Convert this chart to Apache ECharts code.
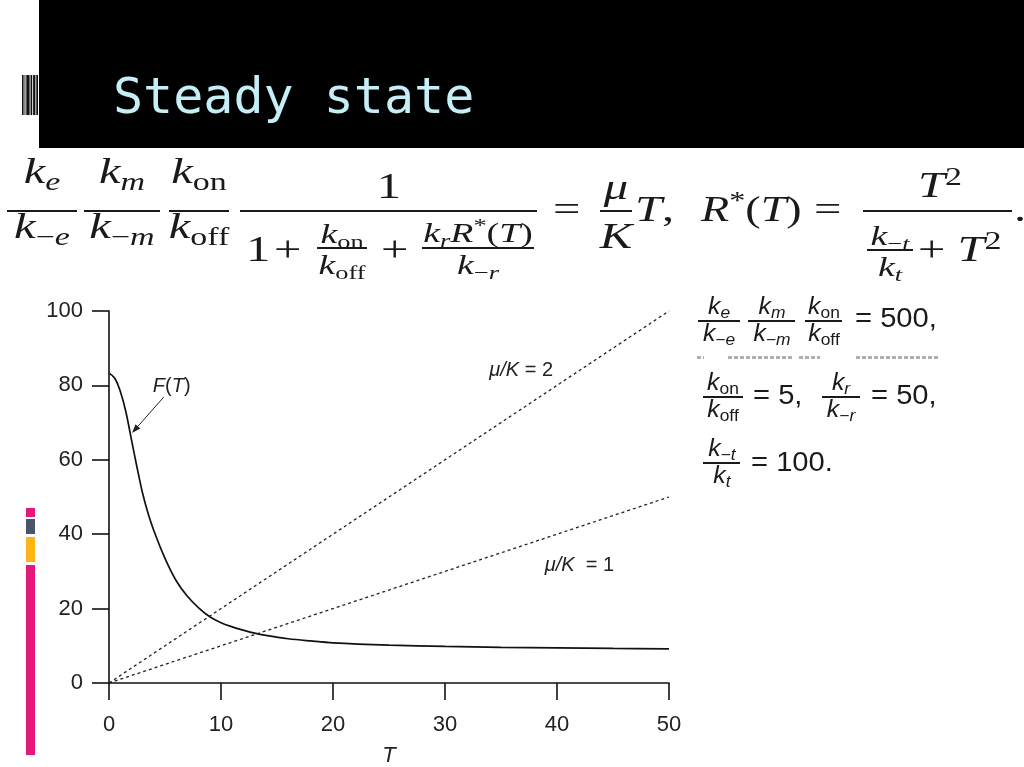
<!DOCTYPE html>
<html>
<head>
<meta charset="utf-8">
<script src="https://cdn.jsdelivr.net/npm/echarts@6/dist/echarts.min.js"></script>
<style>
  html, body { margin: 0; padding: 0; background: #fff; }
  #wrap { position: relative; width: 1024px; height: 767px; overflow: hidden; }
  #myecharts { position: absolute; left: 0; top: 0; width: 1024px; height: 767px; }
  #eqs { position: absolute; left: 0; top: 0; width: 1024px; height: 767px; pointer-events: none; }
  #eqs div { position: absolute; white-space: nowrap; line-height: 1; color: #1a1a1a; }
  .s { font-size: .7em; position: relative; top: .28em; }
  .p { font-size: .7em; position: relative; top: -.48em; }
</style>
</head>
<body>
<div id="wrap">
  <div id="myecharts"></div>
  <div id="eqs"></div>
</div>
<script>
// chart data
var tValues = [0, 0.5, 1, 1.5, 2, 2.5, 3, 3.5, 4, 5, 6, 7, 8, 9, 10, 11, 12, 13, 14, 16, 18, 20, 25, 30, 35, 40, 45, 50];
var fValues = [83.3, 82.0, 78.5, 73.0, 65.5, 58.0, 51.0, 45.5, 41.0, 33.5, 27.5, 23.3, 20.2, 17.8, 16.2, 15.1, 14.2, 13.4, 12.8, 11.9, 11.3, 10.8, 10.2, 9.85, 9.6, 9.45, 9.3, 9.2];
var lineT = [0, 50];
var mu2Values = [0, 100];
var mu1Values = [0, 50];
var xTicks = [0, 10, 20, 30, 40, 50];
var yTicks = [0, 20, 40, 60, 80, 100];

var SANS = "'Liberation Sans', Arial, Helvetica, sans-serif";
var SERIF = "'Liberation Serif', 'DejaVu Serif', serif";

var myChart = echarts.init(document.getElementById('myecharts'));

function pairs(xs, ys) {
    var out = [];
    for (var i in xs) out.push([xs[i], ys[i]]);
    return out;
}

var axisCommon = {
    type: 'value',
    splitLine: { show: false },
    axisLine: { show: true, lineStyle: { color: '#111', width: 1.6 } },
    axisTick: { show: true, length: 17, lineStyle: { color: '#111', width: 1.6 } }
};

var option = {
    animation: false,
    grid: { left: 109, top: 311, width: 560, height: 372, outerBoundsMode: 'none', containLabel: false },
    xAxis: Object.assign({}, axisCommon, {
        min: xTicks[0], max: xTicks[xTicks.length - 1], interval: 10,
        name: 'T', nameLocation: 'middle', nameGap: 62,
        nameTextStyle: { fontFamily: SANS, fontSize: 22, fontStyle: 'italic', color: '#222' },
        axisLabel: { fontFamily: SANS, fontSize: 22, color: '#222', margin: 31 }
    }),
    yAxis: Object.assign({}, axisCommon, {
        min: yTicks[0], max: yTicks[yTicks.length - 1], interval: 20,
        axisLabel: { fontFamily: SANS, fontSize: 22, color: '#222', margin: 26 }
    }),
    series: [
        {
            name: 'F(T)', type: 'line', data: pairs(tValues, fValues),
            smooth: 0.35, showSymbol: false,
            lineStyle: { color: '#111', width: 1.7 }
        },
        {
            name: 'mu2', type: 'line', data: pairs(lineT, mu2Values),
            showSymbol: false,
            lineStyle: { color: '#222', width: 1.3, type: [3, 3] }
        },
        {
            name: 'mu1', type: 'line', data: pairs(lineT, mu1Values),
            showSymbol: false,
            lineStyle: { color: '#222', width: 1.3, type: [3, 3] }
        }
    ]
};
myChart.setOption(option);

// slide decoration + plot annotations
function px(p) { return myChart.convertToPixel({ gridIndex: 0 }, p); }

var g = [];
g.push({ type: 'rect', shape: { x: 39, y: 0, width: 985, height: 148 }, style: { fill: '#000' } });
g.push({ type: 'rect', shape: { x: 22, y: 75, width: 16, height: 40 }, style: { fill: '#111' } });
[23.6, 25.4, 29.6, 32.2, 35.4].forEach(function (x) {
    g.push({ type: 'rect', shape: { x: x, y: 75, width: 0.9, height: 40 }, style: { fill: '#fff' } });
});
g.push({
    type: 'text', x: 113, y: 100,
    style: { text: 'Steady state', fontFamily: "'DejaVu Sans Mono', monospace", fontSize: 50, fill: '#c6eef7', verticalAlign: 'middle' }
});
// colour strip on the left
[[508, 9, '#e5187b'], [519, 15, '#4a5567'], [537, 25, '#fdb515'], [565, 190, '#e5187b']].forEach(function (b) {
    g.push({ type: 'rect', shape: { x: 26, y: b[0], width: 9, height: b[1] }, style: { fill: b[2] } });
});

var rich = {
    i: { fontFamily: SANS, fontSize: 20, fontStyle: 'italic', fill: '#222' },
    n: { fontFamily: SANS, fontSize: 20, fill: '#222' }
};
var pF = px([5.6, 79.8]);
g.push({ type: 'text', x: pF[0], y: pF[1], style: { text: '{i|F}{n|(}{i|T}{n|)}', rich: rich, align: 'center', verticalAlign: 'middle' } });
var p2 = px([36.8, 83.9]);
g.push({ type: 'text', x: p2[0], y: p2[1], style: { text: '{i|μ/K}{n| = 2}', rich: rich, align: 'center', verticalAlign: 'middle' } });
var p1 = px([42.0, 31.7]);
g.push({ type: 'text', x: p1[0], y: p1[1], style: { text: '{i|μ/K}{n|  = 1}', rich: rich, align: 'center', verticalAlign: 'middle' } });

// arrow pointing at the curve
var a0 = px([4.9, 76.9]), a1 = px([2.05, 67.2]);
var dx = a1[0] - a0[0], dy = a1[1] - a0[1], len = Math.sqrt(dx * dx + dy * dy);
var ux = dx / len, uy = dy / len, hl = 9, hw = 3.2;
var bx = a1[0] - ux * hl, by = a1[1] - uy * hl;
g.push({ type: 'line', shape: { x1: a0[0], y1: a0[1], x2: bx, y2: by }, style: { stroke: '#222', lineWidth: 1 } });
g.push({ type: 'polygon', shape: { points: [[a1[0], a1[1]], [bx - uy * hw, by + ux * hw], [bx + uy * hw, by - ux * hw]] }, style: { fill: '#222' } });

myChart.setOption({ graphic: g });

// formulas (slide text around the chart)
var eqs = document.getElementById('eqs');
function put(html, x, base, size, o) {
    o = o || {};
    var serif = o.font !== 'sans';
    var k = serif ? 0.8375 : 0.8465;
    var sx = o.sx || 1;
    var el = document.createElement('div');
    el.innerHTML = html;
    el.style.left = x + 'px';
    el.style.top = (base - k * size) + 'px';
    el.style.fontSize = size + 'px';
    el.style.fontFamily = serif ? SERIF : SANS;
    if (o.c) {
        el.style.transformOrigin = '50% 50%';
        el.style.transform = 'translateX(-50%) scaleX(' + sx + ')';
    } else {
        el.style.transformOrigin = '0 50%';
        el.style.transform = 'scaleX(' + sx + ')';
    }
    eqs.appendChild(el);
}
function rule(x1, x2, y, t) {
    t = t || 1.6;
    var el = document.createElement('div');
    el.style.left = x1 + 'px';
    el.style.top = (y - t / 2) + 'px';
    el.style.width = (x2 - x1) + 'px';
    el.style.height = t + 'px';
    el.style.background = '#1a1a1a';
    eqs.appendChild(el);
}
function frac(x1, x2, y, num, den, nb, db, size, o) {
    rule(x1, x2, y, o.t);
    var c = (x1 + x2) / 2;
    put(num, c, nb, size, { c: true, sx: o.sx, font: o.font });
    put(den, c, db, size, { c: true, sx: o.sx, font: o.font });
}

// big equation, top
var M = 36, Q = 28, SX = 1.35;
var big = { sx: SX };
var sm = { sx: SX, t: 1.3 };
frac(7, 77, 211, '<i>k</i><span class="s"><i>e</i></span>', '<i>k</i><span class="s">−<i>e</i></span>', 183, 238, M, big);
frac(84, 160, 211, '<i>k</i><span class="s"><i>m</i></span>', '<i>k</i><span class="s">−<i>m</i></span>', 183, 238, M, big);
frac(169, 229, 211, '<i>k</i><span class="s">on</span>', '<i>k</i><span class="s">off</span>', 183, 238, M, big);
rule(240, 537, 211);
put('1', 389, 198, M, { c: true, sx: SX });
put('1', 246, 261, M, { sx: SX });
put('+', 274, 261, M, { sx: SX });
frac(317, 367, 248, '<i>k</i><span class="s">on</span>', '<i>k</i><span class="s">off</span>', 243, 274, Q, sm);
put('+', 381, 261, M, { sx: SX });
frac(422, 534, 248, '<i>k</i><span class="s"><i>r</i></span><i>R</i><span class="p">*</span>(<i>T</i>)', '<i>k</i><span class="s">−<i>r</i></span>', 242, 274, Q, sm);
put('=', 553, 221, M, { sx: SX });
frac(600, 632, 211, '<i>μ</i>', '<i>K</i>', 199, 248, M, big);
put('<i>T</i>,', 635, 221, M, { sx: SX });
put('<i>R</i><span class="p">*</span>(<i>T</i>)', 701, 221, M, { sx: 1.28 });
put('=', 814, 221, M, { sx: SX });
rule(863, 1012, 211);
put('<i>T</i><span class="p">2</span>', 940, 197, M, { c: true, sx: SX });
frac(867, 913, 250, '<i>k</i><span class="s">−<i>t</i></span>', '<i>k</i><span class="s"><i>t</i></span>', 245, 276, Q, sm);
put('+ <i>T</i><span class="p">2</span>', 918, 261, M, { sx: SX });
put('.', 1014, 221, M, { sx: SX });

// parameter values, right of the plot
var F1 = 23, F2 = 27, SR = 1.08;
var fr = { sx: SR, font: 'sans', t: 1.5 };
frac(698, 740, 321, '<i>k</i><span class="s"><i>e</i></span>', '<i>k</i><span class="s">−<i>e</i></span>', 314, 341, F1, fr);
frac(748, 795, 321, '<i>k</i><span class="s"><i>m</i></span>', '<i>k</i><span class="s">−<i>m</i></span>', 314, 341, F1, fr);
frac(805, 842, 321, '<i>k</i><span class="s">on</span>', '<i>k</i><span class="s">off</span>', 314, 341, F1, fr);
put('= 500,', 855, 328, F2, { sx: SR, font: 'sans' });

frac(703, 743, 397, '<i>k</i><span class="s">on</span>', '<i>k</i><span class="s">off</span>', 390, 417, F1, fr);
put('= 5,', 753, 405, F2, { sx: SR, font: 'sans' });
frac(822, 860, 397, '<i>k</i><span class="s"><i>r</i></span>', '<i>k</i><span class="s">−<i>r</i></span>', 390, 417, F1, fr);
put('= 50,', 871, 405, F2, { sx: SR, font: 'sans' });

frac(703, 740, 463, '<i>k</i><span class="s">−<i>t</i></span>', '<i>k</i><span class="s"><i>t</i></span>', 456, 483, F1, fr);
put('= 100.', 751, 472, F2, { sx: SR, font: 'sans' });

// faint remains of a clipped line of text
[[697, 704], [728, 792], [799, 820], [856, 938]].forEach(function (s) {
    var el = document.createElement('div');
    el.style.left = s[0] + 'px';
    el.style.top = '356px';
    el.style.width = (s[1] - s[0]) + 'px';
    el.style.height = '3px';
    el.style.background = 'repeating-linear-gradient(90deg, #b0b0b0 0 4px, transparent 4px 6px)';
    eqs.appendChild(el);
});
</script>
</body>
</html>
